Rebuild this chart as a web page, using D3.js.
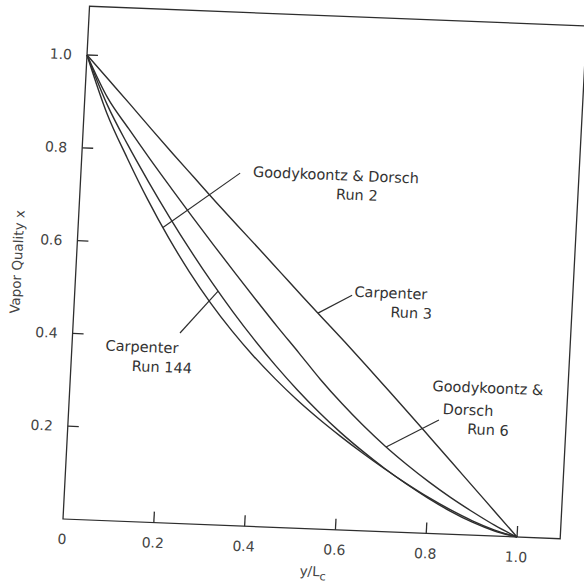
<!DOCTYPE html>
<html>
<head>
<meta charset="utf-8">
<script src="https://cdn.jsdelivr.net/npm/d3@7"></script>
<style>
  html, body { margin: 0; padding: 0; background: #ffffff; }
  svg { display: block; }
  text { font-family: "DejaVu Sans", sans-serif; }
</style>
</head>
<body>
<svg id="chart" width="584" height="587"></svg>
<script>
// ---------------- data ----------------
const xGrid = [0, 0.05, 0.1, 0.15, 0.2, 0.25, 0.3, 0.35, 0.4, 0.45, 0.5,
               0.55, 0.6, 0.65, 0.7, 0.75, 0.8, 0.85, 0.9, 0.95, 1.0];

const carpenterRun3 = [1.0, 0.949, 0.898, 0.846, 0.795, 0.745, 0.695, 0.646, 0.598, 0.549, 0.500,
                       0.452, 0.404, 0.355, 0.305, 0.255, 0.204, 0.153, 0.102, 0.051, 0.0];
const goodykoontzRun6 = [1.0, 0.91, 0.845, 0.782, 0.721, 0.661, 0.602, 0.544, 0.487, 0.431, 0.377,
                         0.322, 0.272, 0.226, 0.184, 0.146, 0.111, 0.079, 0.05, 0.023, 0.0];
const carpenterRun144 = [1.0, 0.895, 0.81, 0.732, 0.658, 0.588, 0.522, 0.46, 0.402, 0.348, 0.298,
                         0.252, 0.21, 0.172, 0.137, 0.105, 0.076, 0.05, 0.028, 0.011, 0.0];
const goodykoontzRun2 = [1.0, 0.877, 0.782, 0.694, 0.614, 0.542, 0.477, 0.419, 0.367, 0.32, 0.277,
                         0.238, 0.202, 0.168, 0.136, 0.106, 0.078, 0.053, 0.031, 0.013, 0.0];

const xTicks = [0.2, 0.4, 0.6, 0.8, 1.0];
const xTickLabels = ["0", "0.2", "0.4", "0.6", "0.8", "1.0"];
const xLabelValues = [0, 0.2, 0.4, 0.6, 0.8, 1.0];
const yTicks = [0.2, 0.4, 0.6, 0.8, 1.0];
const yTickLabels = ["0.2", "0.4", "0.6", "0.8", "1.0"];

const xTitle = "y/L";
const xTitleSub = "c";
const yTitle = "Vapor Quality  x";

// annotations: text lines (data position), leader start and target curve x
const annotations = [
  { lines: [["Goodykoontz & Dorsch", 0.561, 0.763], ["Run 2", 0.609, 0.722]],
    from: [0.35, 0.759], series: "goodykoontzRun2", atX: 0.1865 },
  { lines: [["Carpenter", 0.695, 0.514], ["Run 3", 0.742, 0.473]],
    from: [0.61, 0.506], series: "carpenterRun3", atX: 0.537 },
  { lines: [["Goodykoontz &", 0.919, 0.318], ["Dorsch", 0.878, 0.269], ["Run 6", 0.924, 0.228]],
    from: [0.815, 0.245], series: "goodykoontzRun6", atX: 0.702 },
  { lines: [["Carpenter", 0.154, 0.377], ["Run 144", 0.200, 0.335]],
    from: [0.236, 0.41], series: "carpenterRun144", atX: 0.315 }
];

const seriesMap = { carpenterRun3, goodykoontzRun6, carpenterRun144, goodykoontzRun2 };

// ---------------- drawing ----------------
const svg = d3.select("#chart");
const xLen = 454.4, yLen = 464.6;
const xMax = 1.095, yMax = 1.105;

const x = d3.scaleLinear().domain([0, 1]).range([0, xLen]);
const y = d3.scaleLinear().domain([0, 1]).range([0, -yLen]);

// the scanned figure is slightly tilted; reproduce with a small affine tilt
const g = svg.append("g")
  .attr("transform", "matrix(0.99921,0.03962,-0.05166,0.99871,63,519)");

const ink = "#2e2e2e";

// frame
g.append("rect")
  .attr("x", x(0)).attr("y", y(yMax))
  .attr("width", x(xMax) - x(0)).attr("height", y(0) - y(yMax))
  .attr("fill", "none").attr("stroke", ink).attr("stroke-width", 1.3);

// x axis ticks (inward)
g.selectAll(".xt").data(xTicks).enter().append("line")
  .attr("x1", d => x(d)).attr("x2", d => x(d))
  .attr("y1", y(0)).attr("y2", y(0) - 11)
  .attr("stroke", ink).attr("stroke-width", 1.3);

g.selectAll(".xl").data(xLabelValues).enter().append("text")
  .attr("x", d => x(d)).attr("y", y(0) + 25)
  .attr("text-anchor", "middle")
  .attr("font-size", 14).attr("fill", "#444")
  .text((d, i) => xTickLabels[i]);

// y axis ticks (inward)
g.selectAll(".yt").data(yTicks).enter().append("line")
  .attr("x1", x(0)).attr("x2", x(0) + 11)
  .attr("y1", d => y(d)).attr("y2", d => y(d))
  .attr("stroke", ink).attr("stroke-width", 1.3);

g.selectAll(".yl").data(yTicks).enter().append("text")
  .attr("x", x(0) - 15).attr("y", d => y(d))
  .attr("dy", "0.36em")
  .attr("text-anchor", "end")
  .attr("font-size", 14).attr("fill", "#444")
  .text((d, i) => yTickLabels[i]);

// axis titles
const xt = g.append("text")
  .attr("x", x(0.555)).attr("y", y(0) + 47)
  .attr("text-anchor", "middle")
  .attr("font-size", 13.5).attr("fill", "#444");
xt.append("tspan").text(xTitle);
xt.append("tspan").attr("dy", 4).attr("font-size", 11.5).text(xTitleSub);

g.append("text")
  .attr("transform", `translate(${x(0) - 59},${y(0.549)}) rotate(-90)`)
  .attr("text-anchor", "middle")
  .attr("dy", "0.35em")
  .attr("font-size", 13.5).attr("fill", "#444")
  .text(yTitle);

// curves
const line = d3.line()
  .x(d => x(d[0])).y(d => y(d[1]))
  .curve(d3.curveMonotoneX);

Object.keys(seriesMap).forEach(k => {
  const pts = xGrid.map((xv, i) => [xv, seriesMap[k][i]]);
  g.append("path")
    .attr("d", line(pts))
    .attr("fill", "none")
    .attr("stroke", ink)
    .attr("stroke-width", 1.4);
});

// annotations
function valueAt(arr, xv) {
  const i = Math.min(xGrid.length - 2, Math.max(0, d3.bisectRight(xGrid, xv) - 1));
  const t = (xv - xGrid[i]) / (xGrid[i + 1] - xGrid[i]);
  return arr[i] + t * (arr[i + 1] - arr[i]);
}

annotations.forEach(a => {
  a.lines.forEach(([txt, tx, ty]) => {
    g.append("text")
      .attr("x", x(tx)).attr("y", y(ty))
      .attr("dy", "0.35em")
      .attr("text-anchor", "middle")
      .attr("font-size", 14.5).attr("fill", "#333")
      .text(txt);
  });
  const ex = a.atX, ey = valueAt(seriesMap[a.series], a.atX);
  g.append("line")
    .attr("x1", x(a.from[0])).attr("y1", y(a.from[1]))
    .attr("x2", x(ex)).attr("y2", y(ey))
    .attr("stroke", ink).attr("stroke-width", 1.2);
});
</script>
</body>
</html>
